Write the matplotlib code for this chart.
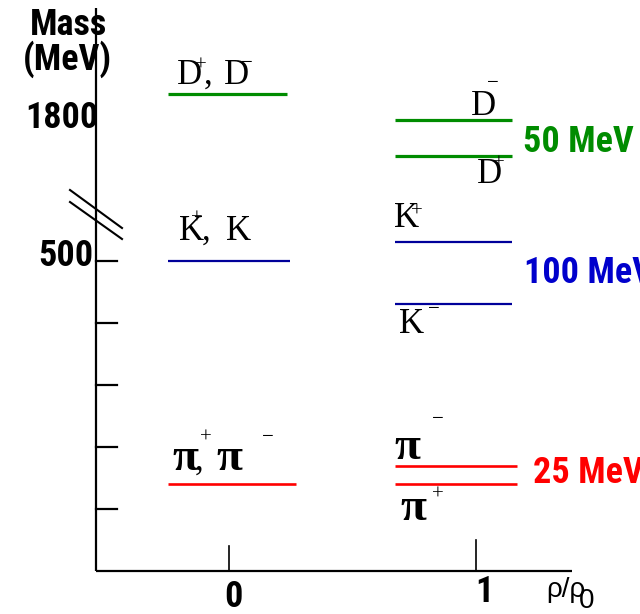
import matplotlib.pyplot as plt
from matplotlib import font_manager

# level scheme (MeV), rho/rho0 = 0 (vacuum) and 1 (normal nuclear matter)
density = [0, 1]
pion_vac = 140
pion_med = [170, 140]      # pi-, pi+
kaon_vac = 500
kaon_med = [530, 430]      # K+, K-
dmes_vac = 1830
dmes_med = [1795, 1745]    # D-, D+
mass_ticks = [100, 200, 300, 400, 500]
split_text = ['25 MeV', '100 MeV', '50 MeV']

GREEN = '#008c00'
BLUE_L = '#00009a'
BLUE_T = '#0000cc'
RED = '#ff0000'

names = {f.name for f in font_manager.fontManager.ttflist}
SANS = 'Liberation Sans'
for cand in ['Liberation Sans Narrow', 'Roboto Condensed', 'Asap Condensed']:
    if cand in names:
        SANS = cand
        break
SERIF = 'Liberation Serif'


def ymap(m):
    # broken axis: above the break 1800 MeV sits at 734 and the scale is stretched
    if m < 1000:
        return m
    return 734 + (m - 1800) * 1.19


# pixel helpers, only for placing text
def X(px):
    return (px - 229) / 247.0


def Y(py):
    return (571 - py) / 0.62


fig = plt.figure(figsize=(6.4, 6.14), dpi=100)
ax = fig.add_axes([0, 0, 1, 1])
ax.set_xlim(X(0), X(640))
ax.set_ylim(Y(614), Y(0))
ax.axis('off')

# axes
x_ax = X(96)
ax.plot([x_ax, x_ax], [0, Y(8)], color='k', lw=1.6, solid_capstyle='butt')
ax.plot([x_ax, X(572)], [0, 0], color='k', lw=1.6, solid_capstyle='butt')
for m in mass_ticks:
    ax.plot([x_ax, X(117)], [m, m], color='k', lw=1.6)
ax.plot([0, 0], [0, 40], color='k', lw=1.2)
ax.plot([1, 1], [0, 50], color='k', lw=1.2)
# break marks
ax.plot([X(70), X(122)], [Y(190), Y(228)], color='k', lw=1.5)
ax.plot([X(70), X(122)], [Y(202), Y(239)], color='k', lw=1.5)

# levels
vac_l, vac_r = -0.247, 0.235
med_l, med_r = -0.328, 0.146
rho0, rho1 = density
ax.hlines(ymap(dmes_vac), rho0 + vac_l, rho0 + vac_r, color=GREEN, lw=2.3)
ax.hlines(ymap(kaon_vac), rho0 + vac_l, rho0 + vac_r + 0.01, color=BLUE_L, lw=1.6)
ax.hlines(ymap(pion_vac), rho0 + vac_l, rho0 + vac_r + 0.035, color=RED, lw=1.9)
for m in dmes_med:
    ax.hlines(ymap(m), rho1 + med_l, rho1 + med_r, color=GREEN, lw=2.3)
for m in kaon_med:
    ax.hlines(ymap(m), rho1 + med_l, rho1 + med_r, color=BLUE_L, lw=1.6)
for m in pion_med:
    ax.hlines(ymap(m), rho1 + med_l, rho1 + med_r + 0.02, color=RED, lw=1.9)

# axis labels
bold = dict(family=SANS, weight='bold', size=26, va='baseline')
ax.text(X(68), Y(35), 'Mass', ha='center', **bold)
ax.text(X(67), Y(70), '(MeV)', ha='center', **bold)
ax.text(X(98), Y(128), '1800', ha='right', **bold)
ax.text(X(93), Y(266), '500', ha='right', **bold)
ax.text(X(233), Y(607), '0', ha='center', **bold)
ax.text(X(484), Y(602), '1', ha='center', **bold)
ax.text(X(546), Y(597), '\u03c1/\u03c1', ha='left', va='baseline', size=20,
        family=['Liberation Sans', 'DejaVu Sans'])
ax.text(X(579), Y(608), '0', ha='left', va='baseline', size=20, family='Liberation Sans')

# splittings
ax.text(X(533), Y(483), split_text[0], ha='left', color=RED, **bold)
ax.text(X(524), Y(283), split_text[1], ha='left', color=BLUE_T, **bold)
ax.text(X(523), Y(152), split_text[2], ha='left', color=GREEN, **bold)

# particle names
ser = dict(family=SERIF, size=25, va='baseline', ha='left')
sup = dict(family=SERIF, size=15, va='center', ha='center')
pi = dict(family=SERIF, size=34, va='baseline', ha='left', weight='bold')

ax.text(X(177), Y(84), 'D', **ser)
ax.text(X(201), Y(66), '+', **sup)
ax.text(X(204), Y(84), ',', **ser)
ax.text(X(224), Y(84), 'D', **ser)
ax.text(X(247), Y(64), '\u2212', **sup)

ax.text(X(179), Y(240), 'K', **ser)
ax.text(X(197), Y(219), '+', **sup)
ax.text(X(202), Y(240), ',', **ser)
ax.text(X(226), Y(240), 'K', **ser)

ax.text(X(471), Y(115), 'D', **ser)
ax.text(X(493), Y(83), '\u2212', **sup)
ax.text(X(477), Y(183), 'D', **ser)
ax.text(X(499), Y(164), '+', **sup)

ax.text(X(394), Y(227), 'K', **ser)
ax.text(X(417), Y(212), '+', **sup)
ax.text(X(399), Y(333), 'K', **ser)
ax.text(X(434), Y(310), '\u2212', **sup)

ax.text(X(172), Y(470), '\u03c0', **pi)
ax.text(X(206), Y(438), '+', **sup)
ax.text(X(195), Y(470), ',', **ser)
ax.text(X(216), Y(470), '\u03c0', **pi)
ax.text(X(268), Y(438), '\u2212', **sup)

ax.text(X(394), Y(459), '\u03c0', **pi)
ax.text(X(438), Y(420), '\u2212', **sup)
ax.text(X(400), Y(520), '\u03c0', **pi)
ax.text(X(438), Y(495), '+', **sup)

fig.savefig('out.png', dpi=100)
